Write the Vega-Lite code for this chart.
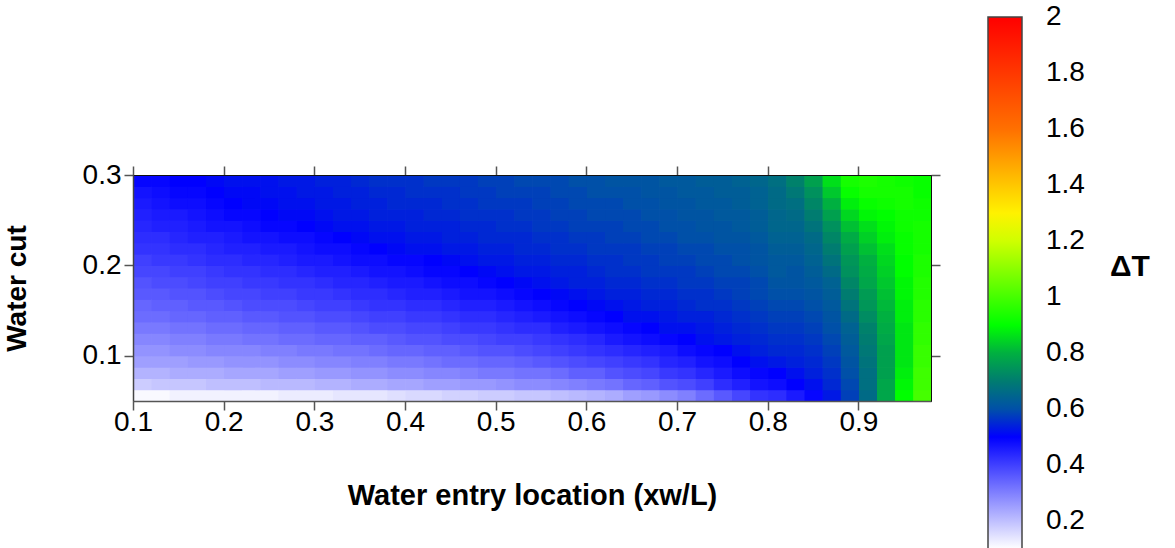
{
"$schema": "https://vega.github.io/schema/vega-lite/v6.json",
"width": 798, "height": 226,
"autosize": {"type": "none"},
"padding": {"left": 133, "top": 175, "right": 244, "bottom": 147},
"background": "white",
"config": {"view": {"stroke": "#111", "strokeWidth": 1}, "font": "Liberation Sans"},
"title": {"text": "ΔT", "orient": "top", "anchor": "start", "frame": "group", "dx": 977, "dy": 289, "offset": 0, "baseline": "alphabetic", "fontSize": 30, "fontWeight": "bold", "font": "Liberation Sans", "color": "black"},
"datasets": {"grid": [
{"x":0.11,"y":0.056,"v":0.11},{"x":0.11,"y":0.069,"v":0.18},{"x":0.11,"y":0.081,"v":0.22},{"x":0.11,"y":0.094,"v":0.25},{"x":0.11,"y":0.106,"v":0.27},{"x":0.11,"y":0.119,"v":0.29},{"x":0.11,"y":0.131,"v":0.31},{"x":0.11,"y":0.144,"v":0.33},{"x":0.11,"y":0.156,"v":0.34},{"x":0.11,"y":0.169,"v":0.36},{"x":0.11,"y":0.181,"v":0.37},{"x":0.11,"y":0.194,"v":0.39},{"x":0.11,"y":0.206,"v":0.40},{"x":0.11,"y":0.219,"v":0.42},{"x":0.11,"y":0.231,"v":0.43},{"x":0.11,"y":0.244,"v":0.44},{"x":0.11,"y":0.256,"v":0.45},{"x":0.11,"y":0.269,"v":0.46},{"x":0.11,"y":0.281,"v":0.47},{"x":0.11,"y":0.294,"v":0.49},
{"x":0.13,"y":0.056,"v":0.11},{"x":0.13,"y":0.069,"v":0.19},{"x":0.13,"y":0.081,"v":0.22},{"x":0.13,"y":0.094,"v":0.25},{"x":0.13,"y":0.106,"v":0.27},{"x":0.13,"y":0.119,"v":0.29},{"x":0.13,"y":0.131,"v":0.31},{"x":0.13,"y":0.144,"v":0.33},{"x":0.13,"y":0.156,"v":0.35},{"x":0.13,"y":0.169,"v":0.36},{"x":0.13,"y":0.181,"v":0.38},{"x":0.13,"y":0.194,"v":0.39},{"x":0.13,"y":0.206,"v":0.41},{"x":0.13,"y":0.219,"v":0.42},{"x":0.13,"y":0.231,"v":0.43},{"x":0.13,"y":0.244,"v":0.45},{"x":0.13,"y":0.256,"v":0.46},{"x":0.13,"y":0.269,"v":0.47},{"x":0.13,"y":0.281,"v":0.48},{"x":0.13,"y":0.294,"v":0.49},
{"x":0.15,"y":0.056,"v":0.12},{"x":0.15,"y":0.069,"v":0.19},{"x":0.15,"y":0.081,"v":0.23},{"x":0.15,"y":0.094,"v":0.25},{"x":0.15,"y":0.106,"v":0.28},{"x":0.15,"y":0.119,"v":0.30},{"x":0.15,"y":0.131,"v":0.32},{"x":0.15,"y":0.144,"v":0.34},{"x":0.15,"y":0.156,"v":0.35},{"x":0.15,"y":0.169,"v":0.37},{"x":0.15,"y":0.181,"v":0.38},{"x":0.15,"y":0.194,"v":0.40},{"x":0.15,"y":0.206,"v":0.41},{"x":0.15,"y":0.219,"v":0.43},{"x":0.15,"y":0.231,"v":0.44},{"x":0.15,"y":0.244,"v":0.45},{"x":0.15,"y":0.256,"v":0.46},{"x":0.15,"y":0.269,"v":0.48},{"x":0.15,"y":0.281,"v":0.49},{"x":0.15,"y":0.294,"v":0.50},
{"x":0.17,"y":0.056,"v":0.12},{"x":0.17,"y":0.069,"v":0.19},{"x":0.17,"y":0.081,"v":0.23},{"x":0.17,"y":0.094,"v":0.26},{"x":0.17,"y":0.106,"v":0.28},{"x":0.17,"y":0.119,"v":0.30},{"x":0.17,"y":0.131,"v":0.32},{"x":0.17,"y":0.144,"v":0.34},{"x":0.17,"y":0.156,"v":0.36},{"x":0.17,"y":0.169,"v":0.37},{"x":0.17,"y":0.181,"v":0.39},{"x":0.17,"y":0.194,"v":0.40},{"x":0.17,"y":0.206,"v":0.42},{"x":0.17,"y":0.219,"v":0.43},{"x":0.17,"y":0.231,"v":0.45},{"x":0.17,"y":0.244,"v":0.46},{"x":0.17,"y":0.256,"v":0.47},{"x":0.17,"y":0.269,"v":0.48},{"x":0.17,"y":0.281,"v":0.49},{"x":0.17,"y":0.294,"v":0.50},
{"x":0.19,"y":0.056,"v":0.12},{"x":0.19,"y":0.069,"v":0.20},{"x":0.19,"y":0.081,"v":0.23},{"x":0.19,"y":0.094,"v":0.26},{"x":0.19,"y":0.106,"v":0.29},{"x":0.19,"y":0.119,"v":0.31},{"x":0.19,"y":0.131,"v":0.33},{"x":0.19,"y":0.144,"v":0.35},{"x":0.19,"y":0.156,"v":0.36},{"x":0.19,"y":0.169,"v":0.38},{"x":0.19,"y":0.181,"v":0.40},{"x":0.19,"y":0.194,"v":0.41},{"x":0.19,"y":0.206,"v":0.43},{"x":0.19,"y":0.219,"v":0.44},{"x":0.19,"y":0.231,"v":0.45},{"x":0.19,"y":0.244,"v":0.47},{"x":0.19,"y":0.256,"v":0.48},{"x":0.19,"y":0.269,"v":0.49},{"x":0.19,"y":0.281,"v":0.50},{"x":0.19,"y":0.294,"v":0.51},
{"x":0.21,"y":0.056,"v":0.12},{"x":0.21,"y":0.069,"v":0.20},{"x":0.21,"y":0.081,"v":0.24},{"x":0.21,"y":0.094,"v":0.27},{"x":0.21,"y":0.106,"v":0.29},{"x":0.21,"y":0.119,"v":0.31},{"x":0.21,"y":0.131,"v":0.33},{"x":0.21,"y":0.144,"v":0.35},{"x":0.21,"y":0.156,"v":0.37},{"x":0.21,"y":0.169,"v":0.39},{"x":0.21,"y":0.181,"v":0.40},{"x":0.21,"y":0.194,"v":0.42},{"x":0.21,"y":0.206,"v":0.43},{"x":0.21,"y":0.219,"v":0.45},{"x":0.21,"y":0.231,"v":0.46},{"x":0.21,"y":0.244,"v":0.47},{"x":0.21,"y":0.256,"v":0.49},{"x":0.21,"y":0.269,"v":0.50},{"x":0.21,"y":0.281,"v":0.51},{"x":0.21,"y":0.294,"v":0.52},
{"x":0.23,"y":0.056,"v":0.12},{"x":0.23,"y":0.069,"v":0.20},{"x":0.23,"y":0.081,"v":0.24},{"x":0.23,"y":0.094,"v":0.27},{"x":0.23,"y":0.106,"v":0.29},{"x":0.23,"y":0.119,"v":0.32},{"x":0.23,"y":0.131,"v":0.34},{"x":0.23,"y":0.144,"v":0.36},{"x":0.23,"y":0.156,"v":0.38},{"x":0.23,"y":0.169,"v":0.39},{"x":0.23,"y":0.181,"v":0.41},{"x":0.23,"y":0.194,"v":0.42},{"x":0.23,"y":0.206,"v":0.44},{"x":0.23,"y":0.219,"v":0.45},{"x":0.23,"y":0.231,"v":0.47},{"x":0.23,"y":0.244,"v":0.48},{"x":0.23,"y":0.256,"v":0.49},{"x":0.23,"y":0.269,"v":0.51},{"x":0.23,"y":0.281,"v":0.51},{"x":0.23,"y":0.294,"v":0.52},
{"x":0.25,"y":0.056,"v":0.12},{"x":0.25,"y":0.069,"v":0.21},{"x":0.25,"y":0.081,"v":0.24},{"x":0.25,"y":0.094,"v":0.27},{"x":0.25,"y":0.106,"v":0.30},{"x":0.25,"y":0.119,"v":0.32},{"x":0.25,"y":0.131,"v":0.34},{"x":0.25,"y":0.144,"v":0.36},{"x":0.25,"y":0.156,"v":0.38},{"x":0.25,"y":0.169,"v":0.40},{"x":0.25,"y":0.181,"v":0.41},{"x":0.25,"y":0.194,"v":0.43},{"x":0.25,"y":0.206,"v":0.44},{"x":0.25,"y":0.219,"v":0.46},{"x":0.25,"y":0.231,"v":0.47},{"x":0.25,"y":0.244,"v":0.49},{"x":0.25,"y":0.256,"v":0.50},{"x":0.25,"y":0.269,"v":0.51},{"x":0.25,"y":0.281,"v":0.52},{"x":0.25,"y":0.294,"v":0.52},
{"x":0.27,"y":0.056,"v":0.13},{"x":0.27,"y":0.069,"v":0.21},{"x":0.27,"y":0.081,"v":0.25},{"x":0.27,"y":0.094,"v":0.28},{"x":0.27,"y":0.106,"v":0.30},{"x":0.27,"y":0.119,"v":0.33},{"x":0.27,"y":0.131,"v":0.35},{"x":0.27,"y":0.144,"v":0.37},{"x":0.27,"y":0.156,"v":0.38},{"x":0.27,"y":0.169,"v":0.40},{"x":0.27,"y":0.181,"v":0.42},{"x":0.27,"y":0.194,"v":0.43},{"x":0.27,"y":0.206,"v":0.45},{"x":0.27,"y":0.219,"v":0.46},{"x":0.27,"y":0.231,"v":0.48},{"x":0.27,"y":0.244,"v":0.49},{"x":0.27,"y":0.256,"v":0.51},{"x":0.27,"y":0.269,"v":0.52},{"x":0.27,"y":0.281,"v":0.52},{"x":0.27,"y":0.294,"v":0.53},
{"x":0.29,"y":0.056,"v":0.13},{"x":0.29,"y":0.069,"v":0.21},{"x":0.29,"y":0.081,"v":0.25},{"x":0.29,"y":0.094,"v":0.28},{"x":0.29,"y":0.106,"v":0.31},{"x":0.29,"y":0.119,"v":0.33},{"x":0.29,"y":0.131,"v":0.35},{"x":0.29,"y":0.144,"v":0.37},{"x":0.29,"y":0.156,"v":0.39},{"x":0.29,"y":0.169,"v":0.41},{"x":0.29,"y":0.181,"v":0.42},{"x":0.29,"y":0.194,"v":0.44},{"x":0.29,"y":0.206,"v":0.46},{"x":0.29,"y":0.219,"v":0.47},{"x":0.29,"y":0.231,"v":0.48},{"x":0.29,"y":0.244,"v":0.50},{"x":0.29,"y":0.256,"v":0.51},{"x":0.29,"y":0.269,"v":0.52},{"x":0.29,"y":0.281,"v":0.53},{"x":0.29,"y":0.294,"v":0.53},
{"x":0.31,"y":0.056,"v":0.13},{"x":0.31,"y":0.069,"v":0.22},{"x":0.31,"y":0.081,"v":0.26},{"x":0.31,"y":0.094,"v":0.29},{"x":0.31,"y":0.106,"v":0.31},{"x":0.31,"y":0.119,"v":0.34},{"x":0.31,"y":0.131,"v":0.36},{"x":0.31,"y":0.144,"v":0.38},{"x":0.31,"y":0.156,"v":0.40},{"x":0.31,"y":0.169,"v":0.41},{"x":0.31,"y":0.181,"v":0.43},{"x":0.31,"y":0.194,"v":0.45},{"x":0.31,"y":0.206,"v":0.46},{"x":0.31,"y":0.219,"v":0.48},{"x":0.31,"y":0.231,"v":0.49},{"x":0.31,"y":0.244,"v":0.51},{"x":0.31,"y":0.256,"v":0.52},{"x":0.31,"y":0.269,"v":0.53},{"x":0.31,"y":0.281,"v":0.53},{"x":0.31,"y":0.294,"v":0.54},
{"x":0.33,"y":0.056,"v":0.14},{"x":0.33,"y":0.069,"v":0.22},{"x":0.33,"y":0.081,"v":0.26},{"x":0.33,"y":0.094,"v":0.29},{"x":0.33,"y":0.106,"v":0.32},{"x":0.33,"y":0.119,"v":0.34},{"x":0.33,"y":0.131,"v":0.36},{"x":0.33,"y":0.144,"v":0.38},{"x":0.33,"y":0.156,"v":0.40},{"x":0.33,"y":0.169,"v":0.42},{"x":0.33,"y":0.181,"v":0.44},{"x":0.33,"y":0.194,"v":0.45},{"x":0.33,"y":0.206,"v":0.47},{"x":0.33,"y":0.219,"v":0.48},{"x":0.33,"y":0.231,"v":0.50},{"x":0.33,"y":0.244,"v":0.52},{"x":0.33,"y":0.256,"v":0.53},{"x":0.33,"y":0.269,"v":0.53},{"x":0.33,"y":0.281,"v":0.54},{"x":0.33,"y":0.294,"v":0.54},
{"x":0.35,"y":0.056,"v":0.14},{"x":0.35,"y":0.069,"v":0.23},{"x":0.35,"y":0.081,"v":0.27},{"x":0.35,"y":0.094,"v":0.30},{"x":0.35,"y":0.106,"v":0.32},{"x":0.35,"y":0.119,"v":0.35},{"x":0.35,"y":0.131,"v":0.37},{"x":0.35,"y":0.144,"v":0.39},{"x":0.35,"y":0.156,"v":0.41},{"x":0.35,"y":0.169,"v":0.43},{"x":0.35,"y":0.181,"v":0.44},{"x":0.35,"y":0.194,"v":0.46},{"x":0.35,"y":0.206,"v":0.48},{"x":0.35,"y":0.219,"v":0.49},{"x":0.35,"y":0.231,"v":0.51},{"x":0.35,"y":0.244,"v":0.52},{"x":0.35,"y":0.256,"v":0.53},{"x":0.35,"y":0.269,"v":0.54},{"x":0.35,"y":0.281,"v":0.54},{"x":0.35,"y":0.294,"v":0.55},
{"x":0.37,"y":0.056,"v":0.14},{"x":0.37,"y":0.069,"v":0.23},{"x":0.37,"y":0.081,"v":0.27},{"x":0.37,"y":0.094,"v":0.30},{"x":0.37,"y":0.106,"v":0.33},{"x":0.37,"y":0.119,"v":0.35},{"x":0.37,"y":0.131,"v":0.38},{"x":0.37,"y":0.144,"v":0.40},{"x":0.37,"y":0.156,"v":0.42},{"x":0.37,"y":0.169,"v":0.43},{"x":0.37,"y":0.181,"v":0.45},{"x":0.37,"y":0.194,"v":0.47},{"x":0.37,"y":0.206,"v":0.48},{"x":0.37,"y":0.219,"v":0.50},{"x":0.37,"y":0.231,"v":0.52},{"x":0.37,"y":0.244,"v":0.53},{"x":0.37,"y":0.256,"v":0.54},{"x":0.37,"y":0.269,"v":0.54},{"x":0.37,"y":0.281,"v":0.55},{"x":0.37,"y":0.294,"v":0.56},
{"x":0.39,"y":0.056,"v":0.15},{"x":0.39,"y":0.069,"v":0.24},{"x":0.39,"y":0.081,"v":0.28},{"x":0.39,"y":0.094,"v":0.31},{"x":0.39,"y":0.106,"v":0.34},{"x":0.39,"y":0.119,"v":0.36},{"x":0.39,"y":0.131,"v":0.38},{"x":0.39,"y":0.144,"v":0.40},{"x":0.39,"y":0.156,"v":0.42},{"x":0.39,"y":0.169,"v":0.44},{"x":0.39,"y":0.181,"v":0.46},{"x":0.39,"y":0.194,"v":0.47},{"x":0.39,"y":0.206,"v":0.49},{"x":0.39,"y":0.219,"v":0.51},{"x":0.39,"y":0.231,"v":0.52},{"x":0.39,"y":0.244,"v":0.53},{"x":0.39,"y":0.256,"v":0.54},{"x":0.39,"y":0.269,"v":0.55},{"x":0.39,"y":0.281,"v":0.55},{"x":0.39,"y":0.294,"v":0.56},
{"x":0.41,"y":0.056,"v":0.16},{"x":0.41,"y":0.069,"v":0.24},{"x":0.41,"y":0.081,"v":0.28},{"x":0.41,"y":0.094,"v":0.31},{"x":0.41,"y":0.106,"v":0.34},{"x":0.41,"y":0.119,"v":0.37},{"x":0.41,"y":0.131,"v":0.39},{"x":0.41,"y":0.144,"v":0.41},{"x":0.41,"y":0.156,"v":0.43},{"x":0.41,"y":0.169,"v":0.45},{"x":0.41,"y":0.181,"v":0.46},{"x":0.41,"y":0.194,"v":0.48},{"x":0.41,"y":0.206,"v":0.49},{"x":0.41,"y":0.219,"v":0.52},{"x":0.41,"y":0.231,"v":0.53},{"x":0.41,"y":0.244,"v":0.54},{"x":0.41,"y":0.256,"v":0.54},{"x":0.41,"y":0.269,"v":0.55},{"x":0.41,"y":0.281,"v":0.56},{"x":0.41,"y":0.294,"v":0.56},
{"x":0.43,"y":0.056,"v":0.16},{"x":0.43,"y":0.069,"v":0.25},{"x":0.43,"y":0.081,"v":0.29},{"x":0.43,"y":0.094,"v":0.32},{"x":0.43,"y":0.106,"v":0.35},{"x":0.43,"y":0.119,"v":0.37},{"x":0.43,"y":0.131,"v":0.39},{"x":0.43,"y":0.144,"v":0.41},{"x":0.43,"y":0.156,"v":0.43},{"x":0.43,"y":0.169,"v":0.45},{"x":0.43,"y":0.181,"v":0.47},{"x":0.43,"y":0.194,"v":0.49},{"x":0.43,"y":0.206,"v":0.50},{"x":0.43,"y":0.219,"v":0.52},{"x":0.43,"y":0.231,"v":0.53},{"x":0.43,"y":0.244,"v":0.54},{"x":0.43,"y":0.256,"v":0.55},{"x":0.43,"y":0.269,"v":0.55},{"x":0.43,"y":0.281,"v":0.56},{"x":0.43,"y":0.294,"v":0.57},
{"x":0.45,"y":0.056,"v":0.17},{"x":0.45,"y":0.069,"v":0.25},{"x":0.45,"y":0.081,"v":0.29},{"x":0.45,"y":0.094,"v":0.33},{"x":0.45,"y":0.106,"v":0.35},{"x":0.45,"y":0.119,"v":0.38},{"x":0.45,"y":0.131,"v":0.40},{"x":0.45,"y":0.144,"v":0.42},{"x":0.45,"y":0.156,"v":0.44},{"x":0.45,"y":0.169,"v":0.46},{"x":0.45,"y":0.181,"v":0.48},{"x":0.45,"y":0.194,"v":0.49},{"x":0.45,"y":0.206,"v":0.51},{"x":0.45,"y":0.219,"v":0.53},{"x":0.45,"y":0.231,"v":0.54},{"x":0.45,"y":0.244,"v":0.54},{"x":0.45,"y":0.256,"v":0.55},{"x":0.45,"y":0.269,"v":0.56},{"x":0.45,"y":0.281,"v":0.56},{"x":0.45,"y":0.294,"v":0.57},
{"x":0.47,"y":0.056,"v":0.17},{"x":0.47,"y":0.069,"v":0.26},{"x":0.47,"y":0.081,"v":0.30},{"x":0.47,"y":0.094,"v":0.33},{"x":0.47,"y":0.106,"v":0.36},{"x":0.47,"y":0.119,"v":0.38},{"x":0.47,"y":0.131,"v":0.41},{"x":0.47,"y":0.144,"v":0.43},{"x":0.47,"y":0.156,"v":0.45},{"x":0.47,"y":0.169,"v":0.47},{"x":0.47,"y":0.181,"v":0.48},{"x":0.47,"y":0.194,"v":0.50},{"x":0.47,"y":0.206,"v":0.52},{"x":0.47,"y":0.219,"v":0.53},{"x":0.47,"y":0.231,"v":0.54},{"x":0.47,"y":0.244,"v":0.55},{"x":0.47,"y":0.256,"v":0.56},{"x":0.47,"y":0.269,"v":0.56},{"x":0.47,"y":0.281,"v":0.57},{"x":0.47,"y":0.294,"v":0.57},
{"x":0.49,"y":0.056,"v":0.18},{"x":0.49,"y":0.069,"v":0.26},{"x":0.49,"y":0.081,"v":0.31},{"x":0.49,"y":0.094,"v":0.34},{"x":0.49,"y":0.106,"v":0.37},{"x":0.49,"y":0.119,"v":0.39},{"x":0.49,"y":0.131,"v":0.41},{"x":0.49,"y":0.144,"v":0.43},{"x":0.49,"y":0.156,"v":0.45},{"x":0.49,"y":0.169,"v":0.47},{"x":0.49,"y":0.181,"v":0.49},{"x":0.49,"y":0.194,"v":0.51},{"x":0.49,"y":0.206,"v":0.53},{"x":0.49,"y":0.219,"v":0.54},{"x":0.49,"y":0.231,"v":0.55},{"x":0.49,"y":0.244,"v":0.55},{"x":0.49,"y":0.256,"v":0.56},{"x":0.49,"y":0.269,"v":0.57},{"x":0.49,"y":0.281,"v":0.57},{"x":0.49,"y":0.294,"v":0.58},
{"x":0.51,"y":0.056,"v":0.18},{"x":0.51,"y":0.069,"v":0.27},{"x":0.51,"y":0.081,"v":0.31},{"x":0.51,"y":0.094,"v":0.34},{"x":0.51,"y":0.106,"v":0.37},{"x":0.51,"y":0.119,"v":0.40},{"x":0.51,"y":0.131,"v":0.42},{"x":0.51,"y":0.144,"v":0.44},{"x":0.51,"y":0.156,"v":0.46},{"x":0.51,"y":0.169,"v":0.48},{"x":0.51,"y":0.181,"v":0.50},{"x":0.51,"y":0.194,"v":0.52},{"x":0.51,"y":0.206,"v":0.53},{"x":0.51,"y":0.219,"v":0.54},{"x":0.51,"y":0.231,"v":0.55},{"x":0.51,"y":0.244,"v":0.56},{"x":0.51,"y":0.256,"v":0.56},{"x":0.51,"y":0.269,"v":0.57},{"x":0.51,"y":0.281,"v":0.58},{"x":0.51,"y":0.294,"v":0.58},
{"x":0.53,"y":0.056,"v":0.19},{"x":0.53,"y":0.069,"v":0.28},{"x":0.53,"y":0.081,"v":0.32},{"x":0.53,"y":0.094,"v":0.35},{"x":0.53,"y":0.106,"v":0.38},{"x":0.53,"y":0.119,"v":0.40},{"x":0.53,"y":0.131,"v":0.43},{"x":0.53,"y":0.144,"v":0.45},{"x":0.53,"y":0.156,"v":0.47},{"x":0.53,"y":0.169,"v":0.49},{"x":0.53,"y":0.181,"v":0.51},{"x":0.53,"y":0.194,"v":0.53},{"x":0.53,"y":0.206,"v":0.54},{"x":0.53,"y":0.219,"v":0.55},{"x":0.53,"y":0.231,"v":0.55},{"x":0.53,"y":0.244,"v":0.56},{"x":0.53,"y":0.256,"v":0.57},{"x":0.53,"y":0.269,"v":0.57},{"x":0.53,"y":0.281,"v":0.58},{"x":0.53,"y":0.294,"v":0.59},
{"x":0.55,"y":0.056,"v":0.19},{"x":0.55,"y":0.069,"v":0.28},{"x":0.55,"y":0.081,"v":0.32},{"x":0.55,"y":0.094,"v":0.36},{"x":0.55,"y":0.106,"v":0.39},{"x":0.55,"y":0.119,"v":0.41},{"x":0.55,"y":0.131,"v":0.43},{"x":0.55,"y":0.144,"v":0.46},{"x":0.55,"y":0.156,"v":0.48},{"x":0.55,"y":0.169,"v":0.50},{"x":0.55,"y":0.181,"v":0.52},{"x":0.55,"y":0.194,"v":0.53},{"x":0.55,"y":0.206,"v":0.54},{"x":0.55,"y":0.219,"v":0.55},{"x":0.55,"y":0.231,"v":0.56},{"x":0.55,"y":0.244,"v":0.57},{"x":0.55,"y":0.256,"v":0.57},{"x":0.55,"y":0.269,"v":0.58},{"x":0.55,"y":0.281,"v":0.58},{"x":0.55,"y":0.294,"v":0.59},
{"x":0.57,"y":0.056,"v":0.20},{"x":0.57,"y":0.069,"v":0.29},{"x":0.57,"y":0.081,"v":0.33},{"x":0.57,"y":0.094,"v":0.37},{"x":0.57,"y":0.106,"v":0.40},{"x":0.57,"y":0.119,"v":0.42},{"x":0.57,"y":0.131,"v":0.45},{"x":0.57,"y":0.144,"v":0.47},{"x":0.57,"y":0.156,"v":0.49},{"x":0.57,"y":0.169,"v":0.51},{"x":0.57,"y":0.181,"v":0.53},{"x":0.57,"y":0.194,"v":0.54},{"x":0.57,"y":0.206,"v":0.55},{"x":0.57,"y":0.219,"v":0.56},{"x":0.57,"y":0.231,"v":0.56},{"x":0.57,"y":0.244,"v":0.57},{"x":0.57,"y":0.256,"v":0.58},{"x":0.57,"y":0.269,"v":0.58},{"x":0.57,"y":0.281,"v":0.59},{"x":0.57,"y":0.294,"v":0.59},
{"x":0.59,"y":0.056,"v":0.21},{"x":0.59,"y":0.069,"v":0.30},{"x":0.59,"y":0.081,"v":0.35},{"x":0.59,"y":0.094,"v":0.38},{"x":0.59,"y":0.106,"v":0.41},{"x":0.59,"y":0.119,"v":0.43},{"x":0.59,"y":0.131,"v":0.46},{"x":0.59,"y":0.144,"v":0.48},{"x":0.59,"y":0.156,"v":0.50},{"x":0.59,"y":0.169,"v":0.52},{"x":0.59,"y":0.181,"v":0.54},{"x":0.59,"y":0.194,"v":0.54},{"x":0.59,"y":0.206,"v":0.55},{"x":0.59,"y":0.219,"v":0.56},{"x":0.59,"y":0.231,"v":0.57},{"x":0.59,"y":0.244,"v":0.58},{"x":0.59,"y":0.256,"v":0.58},{"x":0.59,"y":0.269,"v":0.59},{"x":0.59,"y":0.281,"v":0.59},{"x":0.59,"y":0.294,"v":0.60},
{"x":0.61,"y":0.056,"v":0.22},{"x":0.61,"y":0.069,"v":0.31},{"x":0.61,"y":0.081,"v":0.35},{"x":0.61,"y":0.094,"v":0.39},{"x":0.61,"y":0.106,"v":0.42},{"x":0.61,"y":0.119,"v":0.44},{"x":0.61,"y":0.131,"v":0.47},{"x":0.61,"y":0.144,"v":0.49},{"x":0.61,"y":0.156,"v":0.51},{"x":0.61,"y":0.169,"v":0.53},{"x":0.61,"y":0.181,"v":0.54},{"x":0.61,"y":0.194,"v":0.55},{"x":0.61,"y":0.206,"v":0.56},{"x":0.61,"y":0.219,"v":0.57},{"x":0.61,"y":0.231,"v":0.57},{"x":0.61,"y":0.244,"v":0.58},{"x":0.61,"y":0.256,"v":0.59},{"x":0.61,"y":0.269,"v":0.59},{"x":0.61,"y":0.281,"v":0.60},{"x":0.61,"y":0.294,"v":0.60},
{"x":0.63,"y":0.056,"v":0.23},{"x":0.63,"y":0.069,"v":0.32},{"x":0.63,"y":0.081,"v":0.37},{"x":0.63,"y":0.094,"v":0.40},{"x":0.63,"y":0.106,"v":0.43},{"x":0.63,"y":0.119,"v":0.46},{"x":0.63,"y":0.131,"v":0.48},{"x":0.63,"y":0.144,"v":0.50},{"x":0.63,"y":0.156,"v":0.52},{"x":0.63,"y":0.169,"v":0.54},{"x":0.63,"y":0.181,"v":0.55},{"x":0.63,"y":0.194,"v":0.56},{"x":0.63,"y":0.206,"v":0.56},{"x":0.63,"y":0.219,"v":0.57},{"x":0.63,"y":0.231,"v":0.58},{"x":0.63,"y":0.244,"v":0.58},{"x":0.63,"y":0.256,"v":0.59},{"x":0.63,"y":0.269,"v":0.59},{"x":0.63,"y":0.281,"v":0.60},{"x":0.63,"y":0.294,"v":0.61},
{"x":0.65,"y":0.056,"v":0.25},{"x":0.65,"y":0.069,"v":0.34},{"x":0.65,"y":0.081,"v":0.38},{"x":0.65,"y":0.094,"v":0.41},{"x":0.65,"y":0.106,"v":0.44},{"x":0.65,"y":0.119,"v":0.47},{"x":0.65,"y":0.131,"v":0.49},{"x":0.65,"y":0.144,"v":0.52},{"x":0.65,"y":0.156,"v":0.53},{"x":0.65,"y":0.169,"v":0.54},{"x":0.65,"y":0.181,"v":0.55},{"x":0.65,"y":0.194,"v":0.56},{"x":0.65,"y":0.206,"v":0.57},{"x":0.65,"y":0.219,"v":0.57},{"x":0.65,"y":0.231,"v":0.58},{"x":0.65,"y":0.244,"v":0.59},{"x":0.65,"y":0.256,"v":0.59},{"x":0.65,"y":0.269,"v":0.60},{"x":0.65,"y":0.281,"v":0.60},{"x":0.65,"y":0.294,"v":0.61},
{"x":0.67,"y":0.056,"v":0.26},{"x":0.67,"y":0.069,"v":0.35},{"x":0.67,"y":0.081,"v":0.39},{"x":0.67,"y":0.094,"v":0.42},{"x":0.67,"y":0.106,"v":0.45},{"x":0.67,"y":0.119,"v":0.48},{"x":0.67,"y":0.131,"v":0.50},{"x":0.67,"y":0.144,"v":0.52},{"x":0.67,"y":0.156,"v":0.54},{"x":0.67,"y":0.169,"v":0.55},{"x":0.67,"y":0.181,"v":0.56},{"x":0.67,"y":0.194,"v":0.57},{"x":0.67,"y":0.206,"v":0.57},{"x":0.67,"y":0.219,"v":0.58},{"x":0.67,"y":0.231,"v":0.59},{"x":0.67,"y":0.244,"v":0.59},{"x":0.67,"y":0.256,"v":0.60},{"x":0.67,"y":0.269,"v":0.60},{"x":0.67,"y":0.281,"v":0.61},{"x":0.67,"y":0.294,"v":0.61},
{"x":0.69,"y":0.056,"v":0.28},{"x":0.69,"y":0.069,"v":0.37},{"x":0.69,"y":0.081,"v":0.41},{"x":0.69,"y":0.094,"v":0.44},{"x":0.69,"y":0.106,"v":0.46},{"x":0.69,"y":0.119,"v":0.49},{"x":0.69,"y":0.131,"v":0.52},{"x":0.69,"y":0.144,"v":0.53},{"x":0.69,"y":0.156,"v":0.54},{"x":0.69,"y":0.169,"v":0.55},{"x":0.69,"y":0.181,"v":0.56},{"x":0.69,"y":0.194,"v":0.57},{"x":0.69,"y":0.206,"v":0.58},{"x":0.69,"y":0.219,"v":0.58},{"x":0.69,"y":0.231,"v":0.59},{"x":0.69,"y":0.244,"v":0.60},{"x":0.69,"y":0.256,"v":0.60},{"x":0.69,"y":0.269,"v":0.61},{"x":0.69,"y":0.281,"v":0.61},{"x":0.69,"y":0.294,"v":0.62},
{"x":0.71,"y":0.056,"v":0.30},{"x":0.71,"y":0.069,"v":0.38},{"x":0.71,"y":0.081,"v":0.42},{"x":0.71,"y":0.094,"v":0.45},{"x":0.71,"y":0.106,"v":0.48},{"x":0.71,"y":0.119,"v":0.50},{"x":0.71,"y":0.131,"v":0.52},{"x":0.71,"y":0.144,"v":0.54},{"x":0.71,"y":0.156,"v":0.55},{"x":0.71,"y":0.169,"v":0.56},{"x":0.71,"y":0.181,"v":0.57},{"x":0.71,"y":0.194,"v":0.57},{"x":0.71,"y":0.206,"v":0.58},{"x":0.71,"y":0.219,"v":0.59},{"x":0.71,"y":0.231,"v":0.60},{"x":0.71,"y":0.244,"v":0.60},{"x":0.71,"y":0.256,"v":0.61},{"x":0.71,"y":0.269,"v":0.61},{"x":0.71,"y":0.281,"v":0.62},{"x":0.71,"y":0.294,"v":0.62},
{"x":0.73,"y":0.056,"v":0.33},{"x":0.73,"y":0.069,"v":0.40},{"x":0.73,"y":0.081,"v":0.44},{"x":0.73,"y":0.094,"v":0.47},{"x":0.73,"y":0.106,"v":0.49},{"x":0.73,"y":0.119,"v":0.52},{"x":0.73,"y":0.131,"v":0.53},{"x":0.73,"y":0.144,"v":0.54},{"x":0.73,"y":0.156,"v":0.56},{"x":0.73,"y":0.169,"v":0.56},{"x":0.73,"y":0.181,"v":0.57},{"x":0.73,"y":0.194,"v":0.58},{"x":0.73,"y":0.206,"v":0.59},{"x":0.73,"y":0.219,"v":0.59},{"x":0.73,"y":0.231,"v":0.60},{"x":0.73,"y":0.244,"v":0.61},{"x":0.73,"y":0.256,"v":0.61},{"x":0.73,"y":0.269,"v":0.62},{"x":0.73,"y":0.281,"v":0.62},{"x":0.73,"y":0.294,"v":0.63},
{"x":0.75,"y":0.056,"v":0.36},{"x":0.75,"y":0.069,"v":0.43},{"x":0.75,"y":0.081,"v":0.46},{"x":0.75,"y":0.094,"v":0.48},{"x":0.75,"y":0.106,"v":0.50},{"x":0.75,"y":0.119,"v":0.53},{"x":0.75,"y":0.131,"v":0.54},{"x":0.75,"y":0.144,"v":0.55},{"x":0.75,"y":0.156,"v":0.56},{"x":0.75,"y":0.169,"v":0.57},{"x":0.75,"y":0.181,"v":0.58},{"x":0.75,"y":0.194,"v":0.59},{"x":0.75,"y":0.206,"v":0.59},{"x":0.75,"y":0.219,"v":0.60},{"x":0.75,"y":0.231,"v":0.61},{"x":0.75,"y":0.244,"v":0.61},{"x":0.75,"y":0.256,"v":0.62},{"x":0.75,"y":0.269,"v":0.62},{"x":0.75,"y":0.281,"v":0.63},{"x":0.75,"y":0.294,"v":0.63},
{"x":0.77,"y":0.056,"v":0.39},{"x":0.77,"y":0.069,"v":0.45},{"x":0.77,"y":0.081,"v":0.48},{"x":0.77,"y":0.094,"v":0.50},{"x":0.77,"y":0.106,"v":0.52},{"x":0.77,"y":0.119,"v":0.54},{"x":0.77,"y":0.131,"v":0.55},{"x":0.77,"y":0.144,"v":0.56},{"x":0.77,"y":0.156,"v":0.57},{"x":0.77,"y":0.169,"v":0.58},{"x":0.77,"y":0.181,"v":0.58},{"x":0.77,"y":0.194,"v":0.59},{"x":0.77,"y":0.206,"v":0.60},{"x":0.77,"y":0.219,"v":0.60},{"x":0.77,"y":0.231,"v":0.61},{"x":0.77,"y":0.244,"v":0.62},{"x":0.77,"y":0.256,"v":0.62},{"x":0.77,"y":0.269,"v":0.63},{"x":0.77,"y":0.281,"v":0.63},{"x":0.77,"y":0.294,"v":0.64},
{"x":0.79,"y":0.056,"v":0.42},{"x":0.79,"y":0.069,"v":0.47},{"x":0.79,"y":0.081,"v":0.49},{"x":0.79,"y":0.094,"v":0.52},{"x":0.79,"y":0.106,"v":0.54},{"x":0.79,"y":0.119,"v":0.55},{"x":0.79,"y":0.131,"v":0.56},{"x":0.79,"y":0.144,"v":0.57},{"x":0.79,"y":0.156,"v":0.58},{"x":0.79,"y":0.169,"v":0.59},{"x":0.79,"y":0.181,"v":0.59},{"x":0.79,"y":0.194,"v":0.60},{"x":0.79,"y":0.206,"v":0.61},{"x":0.79,"y":0.219,"v":0.61},{"x":0.79,"y":0.231,"v":0.62},{"x":0.79,"y":0.244,"v":0.63},{"x":0.79,"y":0.256,"v":0.63},{"x":0.79,"y":0.269,"v":0.64},{"x":0.79,"y":0.281,"v":0.64},{"x":0.79,"y":0.294,"v":0.65},
{"x":0.81,"y":0.056,"v":0.43},{"x":0.81,"y":0.069,"v":0.48},{"x":0.81,"y":0.081,"v":0.50},{"x":0.81,"y":0.094,"v":0.53},{"x":0.81,"y":0.106,"v":0.55},{"x":0.81,"y":0.119,"v":0.56},{"x":0.81,"y":0.131,"v":0.57},{"x":0.81,"y":0.144,"v":0.58},{"x":0.81,"y":0.156,"v":0.59},{"x":0.81,"y":0.169,"v":0.60},{"x":0.81,"y":0.181,"v":0.61},{"x":0.81,"y":0.194,"v":0.62},{"x":0.81,"y":0.206,"v":0.62},{"x":0.81,"y":0.219,"v":0.63},{"x":0.81,"y":0.231,"v":0.64},{"x":0.81,"y":0.244,"v":0.65},{"x":0.81,"y":0.256,"v":0.65},{"x":0.81,"y":0.269,"v":0.66},{"x":0.81,"y":0.281,"v":0.66},{"x":0.81,"y":0.294,"v":0.67},
{"x":0.83,"y":0.056,"v":0.46},{"x":0.83,"y":0.069,"v":0.50},{"x":0.83,"y":0.081,"v":0.52},{"x":0.83,"y":0.094,"v":0.54},{"x":0.83,"y":0.106,"v":0.55},{"x":0.83,"y":0.119,"v":0.56},{"x":0.83,"y":0.131,"v":0.57},{"x":0.83,"y":0.144,"v":0.58},{"x":0.83,"y":0.156,"v":0.59},{"x":0.83,"y":0.169,"v":0.60},{"x":0.83,"y":0.181,"v":0.61},{"x":0.83,"y":0.194,"v":0.61},{"x":0.83,"y":0.206,"v":0.62},{"x":0.83,"y":0.219,"v":0.63},{"x":0.83,"y":0.231,"v":0.64},{"x":0.83,"y":0.244,"v":0.65},{"x":0.83,"y":0.256,"v":0.66},{"x":0.83,"y":0.269,"v":0.67},{"x":0.83,"y":0.281,"v":0.69},{"x":0.83,"y":0.294,"v":0.71},
{"x":0.85,"y":0.056,"v":0.49},{"x":0.85,"y":0.069,"v":0.52},{"x":0.85,"y":0.081,"v":0.54},{"x":0.85,"y":0.094,"v":0.55},{"x":0.85,"y":0.106,"v":0.56},{"x":0.85,"y":0.119,"v":0.57},{"x":0.85,"y":0.131,"v":0.58},{"x":0.85,"y":0.144,"v":0.59},{"x":0.85,"y":0.156,"v":0.60},{"x":0.85,"y":0.169,"v":0.61},{"x":0.85,"y":0.181,"v":0.62},{"x":0.85,"y":0.194,"v":0.63},{"x":0.85,"y":0.206,"v":0.64},{"x":0.85,"y":0.219,"v":0.65},{"x":0.85,"y":0.231,"v":0.66},{"x":0.85,"y":0.244,"v":0.68},{"x":0.85,"y":0.256,"v":0.70},{"x":0.85,"y":0.269,"v":0.72},{"x":0.85,"y":0.281,"v":0.74},{"x":0.85,"y":0.294,"v":0.77},
{"x":0.87,"y":0.056,"v":0.53},{"x":0.87,"y":0.069,"v":0.55},{"x":0.87,"y":0.081,"v":0.56},{"x":0.87,"y":0.094,"v":0.57},{"x":0.87,"y":0.106,"v":0.58},{"x":0.87,"y":0.119,"v":0.59},{"x":0.87,"y":0.131,"v":0.60},{"x":0.87,"y":0.144,"v":0.61},{"x":0.87,"y":0.156,"v":0.62},{"x":0.87,"y":0.169,"v":0.63},{"x":0.87,"y":0.181,"v":0.64},{"x":0.87,"y":0.194,"v":0.66},{"x":0.87,"y":0.206,"v":0.68},{"x":0.87,"y":0.219,"v":0.70},{"x":0.87,"y":0.231,"v":0.72},{"x":0.87,"y":0.244,"v":0.74},{"x":0.87,"y":0.256,"v":0.77},{"x":0.87,"y":0.269,"v":0.80},{"x":0.87,"y":0.281,"v":0.83},{"x":0.87,"y":0.294,"v":0.86},
{"x":0.89,"y":0.056,"v":0.58},{"x":0.89,"y":0.069,"v":0.59},{"x":0.89,"y":0.081,"v":0.60},{"x":0.89,"y":0.094,"v":0.61},{"x":0.89,"y":0.106,"v":0.62},{"x":0.89,"y":0.119,"v":0.63},{"x":0.89,"y":0.131,"v":0.64},{"x":0.89,"y":0.144,"v":0.66},{"x":0.89,"y":0.156,"v":0.68},{"x":0.89,"y":0.169,"v":0.70},{"x":0.89,"y":0.181,"v":0.72},{"x":0.89,"y":0.194,"v":0.74},{"x":0.89,"y":0.206,"v":0.75},{"x":0.89,"y":0.219,"v":0.77},{"x":0.89,"y":0.231,"v":0.79},{"x":0.89,"y":0.244,"v":0.82},{"x":0.89,"y":0.256,"v":0.85},{"x":0.89,"y":0.269,"v":0.88},{"x":0.89,"y":0.281,"v":0.91},{"x":0.89,"y":0.294,"v":0.93},
{"x":0.91,"y":0.056,"v":0.66},{"x":0.91,"y":0.069,"v":0.67},{"x":0.91,"y":0.081,"v":0.67},{"x":0.91,"y":0.094,"v":0.68},{"x":0.91,"y":0.106,"v":0.69},{"x":0.91,"y":0.119,"v":0.70},{"x":0.91,"y":0.131,"v":0.71},{"x":0.91,"y":0.144,"v":0.73},{"x":0.91,"y":0.156,"v":0.75},{"x":0.91,"y":0.169,"v":0.76},{"x":0.91,"y":0.181,"v":0.78},{"x":0.91,"y":0.194,"v":0.79},{"x":0.91,"y":0.206,"v":0.80},{"x":0.91,"y":0.219,"v":0.82},{"x":0.91,"y":0.231,"v":0.84},{"x":0.91,"y":0.244,"v":0.86},{"x":0.91,"y":0.256,"v":0.89},{"x":0.91,"y":0.269,"v":0.91},{"x":0.91,"y":0.281,"v":0.93},{"x":0.91,"y":0.294,"v":0.94},
{"x":0.93,"y":0.056,"v":0.78},{"x":0.93,"y":0.069,"v":0.78},{"x":0.93,"y":0.081,"v":0.77},{"x":0.93,"y":0.094,"v":0.77},{"x":0.93,"y":0.106,"v":0.77},{"x":0.93,"y":0.119,"v":0.78},{"x":0.93,"y":0.131,"v":0.79},{"x":0.93,"y":0.144,"v":0.80},{"x":0.93,"y":0.156,"v":0.81},{"x":0.93,"y":0.169,"v":0.82},{"x":0.93,"y":0.181,"v":0.83},{"x":0.93,"y":0.194,"v":0.84},{"x":0.93,"y":0.206,"v":0.85},{"x":0.93,"y":0.219,"v":0.86},{"x":0.93,"y":0.231,"v":0.88},{"x":0.93,"y":0.244,"v":0.89},{"x":0.93,"y":0.256,"v":0.90},{"x":0.93,"y":0.269,"v":0.92},{"x":0.93,"y":0.281,"v":0.93},{"x":0.93,"y":0.294,"v":0.93},
{"x":0.95,"y":0.056,"v":0.90},{"x":0.95,"y":0.069,"v":0.89},{"x":0.95,"y":0.081,"v":0.88},{"x":0.95,"y":0.094,"v":0.87},{"x":0.95,"y":0.106,"v":0.87},{"x":0.95,"y":0.119,"v":0.87},{"x":0.95,"y":0.131,"v":0.87},{"x":0.95,"y":0.144,"v":0.88},{"x":0.95,"y":0.156,"v":0.88},{"x":0.95,"y":0.169,"v":0.89},{"x":0.95,"y":0.181,"v":0.89},{"x":0.95,"y":0.194,"v":0.90},{"x":0.95,"y":0.206,"v":0.90},{"x":0.95,"y":0.219,"v":0.91},{"x":0.95,"y":0.231,"v":0.91},{"x":0.95,"y":0.244,"v":0.92},{"x":0.95,"y":0.256,"v":0.92},{"x":0.95,"y":0.269,"v":0.93},{"x":0.95,"y":0.281,"v":0.93},{"x":0.95,"y":0.294,"v":0.92},
{"x":0.97,"y":0.056,"v":1.00},{"x":0.97,"y":0.069,"v":0.99},{"x":0.97,"y":0.081,"v":0.99},{"x":0.97,"y":0.094,"v":0.98},{"x":0.97,"y":0.106,"v":0.98},{"x":0.97,"y":0.119,"v":0.97},{"x":0.97,"y":0.131,"v":0.97},{"x":0.97,"y":0.144,"v":0.96},{"x":0.97,"y":0.156,"v":0.96},{"x":0.97,"y":0.169,"v":0.95},{"x":0.97,"y":0.181,"v":0.95},{"x":0.97,"y":0.194,"v":0.94},{"x":0.97,"y":0.206,"v":0.94},{"x":0.97,"y":0.219,"v":0.93},{"x":0.97,"y":0.231,"v":0.93},{"x":0.97,"y":0.244,"v":0.93},{"x":0.97,"y":0.256,"v":0.92},{"x":0.97,"y":0.269,"v":0.92},{"x":0.97,"y":0.281,"v":0.91},{"x":0.97,"y":0.294,"v":0.91}
]},
"data": {"name": "grid"},
"resolve": {"axis": {"x": "independent", "y": "independent"}},
"layer": [
{
"mark": {"type": "rect", "binSpacing": 0},
"encoding": {
"x": {"field": "x", "type": "quantitative", "bin": {"extent": [0.1, 0.98], "step": 0.02, "nice": false},
 "scale": {"domain": [0.1, 0.98], "nice": false, "zero": false},
 "axis": {"orient": "bottom", "values": [0.1,0.2,0.3,0.4,0.5,0.6,0.7,0.8,0.9], "format": ".1f", "grid": false, "labelFlush": false, "labelOverlap": false,
  "labelFontSize": 28, "labelColor": "black", "labelFont": "Liberation Sans", "labelPadding": -2,
  "tickSize": 9, "tickColor": "#555", "tickWidth": 1.5, "domainColor": "#555", "domainWidth": 1.5,
  "title": "Water entry location (xw/L)", "titleFont": "Liberation Sans", "titleFontSize": 29, "titleFontWeight": "bold", "titleColor": "black", "titlePadding": 45}},
"y": {"field": "y", "type": "quantitative", "bin": {"extent": [0.05, 0.3], "step": 0.0125, "nice": false},
 "scale": {"domain": [0.05, 0.3], "nice": false, "zero": false},
 "axis": {"orient": "left", "values": [0.1,0.2,0.3], "format": ".1f", "grid": false, "labelFlush": false, "labelOverlap": false,
  "labelFontSize": 28, "labelColor": "black", "labelFont": "Liberation Sans", "labelPadding": 3,
  "tickSize": 9, "tickColor": "#555", "tickWidth": 1.5, "domainColor": "#444", "domainWidth": 1.5,
  "title": "Water cut", "titleFont": "Liberation Sans", "titleFontSize": 28, "titleFontWeight": "bold", "titleColor": "black", "titlePadding": 51}},
"color": {"field": "v", "type": "quantitative",
 "scale": {"type": "linear", "domain": [0.1, 0.5, 0.6, 0.7, 0.8, 0.9, 1.27, 1.6, 2.001], "range": ["#ffffff", "#0000ff", "#0050a8", "#007c70", "#00b040", "#00ff00", "#ffff00", "#ff7000", "#ff0000"], "interpolate": "rgb", "clamp": true},
 "legend": {"type": "gradient", "orient": "none", "legendX": 855, "legendY": -158, "direction": "vertical", "title": null,
  "gradientLength": 532, "gradientThickness": 34, "gradientStrokeColor": "#444", "gradientStrokeWidth": 1.5,
  "values": [0.2,0.4,0.6,0.8,1,1.2,1.4,1.6,1.8,2], "format": "~g", "labelOverlap": false,
  "labelFontSize": 28, "labelFont": "Liberation Sans", "labelColor": "black", "labelOffset": 24}}
}
},
{
"mark": {"type": "rect", "binSpacing": 0},
"encoding": {
"x": {"field": "x", "type": "quantitative", "bin": {"extent": [0.1, 0.98], "step": 0.02, "nice": false}, "axis": null},
"y": {"field": "y", "type": "quantitative", "bin": {"extent": [0.05, 0.3], "step": 0.0125, "nice": false}, "axis": null},
"color": {"field": "v", "type": "quantitative"}
}
},
{
"mark": {"type": "rect", "binSpacing": 0},
"encoding": {
"x": {"field": "x", "type": "quantitative", "bin": {"extent": [0.1, 0.98], "step": 0.02, "nice": false},
 "axis": {"orient": "top", "values": [0.1,0.2,0.3,0.4,0.5,0.6,0.7,0.8,0.9], "labels": false, "title": null, "grid": false, "tickSize": 9, "tickColor": "#555", "tickWidth": 1.5, "domainColor": "#111"}},
"y": {"field": "y", "type": "quantitative", "bin": {"extent": [0.05, 0.3], "step": 0.0125, "nice": false},
 "axis": {"orient": "right", "values": [0.1,0.2,0.3], "labels": false, "title": null, "grid": false, "tickSize": 9, "tickColor": "#555", "tickWidth": 1.5, "domainColor": "#111"}},
"color": {"field": "v", "type": "quantitative"}
}
}
]
}
